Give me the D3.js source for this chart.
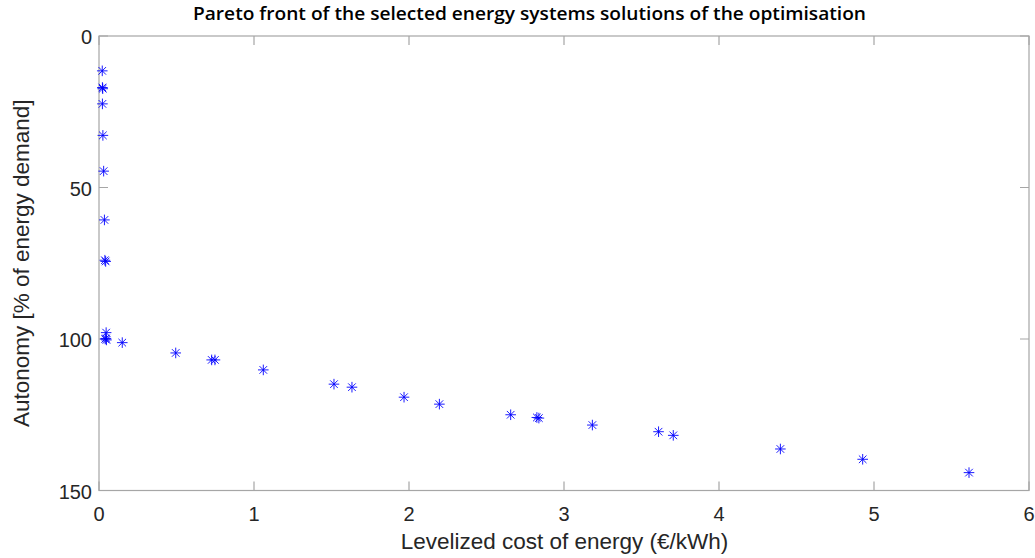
<!doctype html>
<html>
<head>
<meta charset="utf-8">
<title>Pareto front</title>
<style>
  html, body { margin: 0; padding: 0; background: #fff; }
  svg { display: block; }
</style>
<script src="https://cdnjs.cloudflare.com/ajax/libs/d3/7.8.5/d3.min.js"></script>
</head>
<body>
<script>
// levelized cost of energy (EUR/kWh) and autonomy (% of energy demand)
var cost = [0.021, 0.022, 0.024, 0.022, 0.025, 0.03, 0.035, 0.038, 0.043,
            0.046, 0.045, 0.048, 0.040, 0.15, 0.495, 0.727, 0.748, 1.06,
            1.516, 1.632, 1.968, 2.196, 2.656, 2.825, 2.838, 3.183, 3.61,
            3.705, 4.396, 4.927, 5.613];
var autonomy = [11.5, 17.0, 17.4, 22.4, 32.8, 44.6, 60.7, 74.0, 74.4,
                97.9, 99.8, 100.3, 100.0, 101.2, 104.6, 106.9, 106.9, 110.2,
                114.9, 115.9, 119.2, 121.5, 125.0, 125.9, 126.1, 128.4, 130.6,
                131.8, 136.3, 139.7, 144.1];
var xTicks = [0, 1, 2, 3, 4, 5, 6];
var yTicks = [0, 50, 100, 150];

var W = 1035, H = 558;
var pLeft = 99, pRight = 1029, pTop = 36, pBottom = 490.5;

var svg = d3.select("body").append("svg")
    .attr("width", W).attr("height", H);

var x = d3.scaleLinear().domain([0, 6]).range([pLeft, pRight]);
var y = d3.scaleLinear().domain([0, 150]).range([pTop, pBottom]);

var axisColor = "#262626";
var boxColor = "#a6a6a6";
var tickLen = 9;

// box
svg.append("rect")
    .attr("x", pLeft).attr("y", pTop)
    .attr("width", pRight - pLeft).attr("height", pBottom - pTop)
    .attr("fill", "none").attr("stroke", boxColor).attr("stroke-width", 1.2);

// ticks on all four sides
var g = svg.append("g");
g.selectAll(".xt").data(xTicks).enter().append("path")
    .attr("d", function (d) {
        var px = x(d);
        return "M" + px + "," + pBottom + "v" + (-tickLen) + "M" + px + "," + pTop + "v" + tickLen;
    })
    .attr("stroke", boxColor).attr("stroke-width", 1.2);
g.selectAll(".yt").data(yTicks).enter().append("path")
    .attr("d", function (d) {
        var py = y(d);
        return "M" + pLeft + "," + py + "h" + tickLen + "M" + pRight + "," + py + "h" + (-tickLen);
    })
    .attr("stroke", boxColor).attr("stroke-width", 1.2);

var font = "'Liberation Sans', Arial, Helvetica, sans-serif";

g.selectAll(".xl").data(xTicks).enter().append("text")
    .attr("x", function (d) { return x(d); })
    .attr("y", pBottom + 30)
    .attr("text-anchor", "middle")
    .attr("font-family", font).attr("font-size", 20)
    .attr("fill", axisColor)
    .text(function (d) { return d; });

g.selectAll(".yl").data(yTicks).enter().append("text")
    .attr("x", pLeft - 7)
    .attr("y", function (d) { return y(d) + 8; })
    .attr("text-anchor", "end")
    .attr("font-family", font).attr("font-size", 20)
    .attr("fill", axisColor)
    .text(function (d) { return d; });

// axis labels
svg.append("text")
    .attr("x", 564.5).attr("y", 549)
    .attr("text-anchor", "middle")
    .attr("font-family", font).attr("font-size", 22.5)
    .attr("fill", axisColor)
    .text("Levelized cost of energy (€/kWh)");

svg.append("text")
    .attr("transform", "translate(29," + ((pTop + pBottom) / 2) + ") rotate(-90)")
    .attr("text-anchor", "middle")
    .attr("font-family", font).attr("font-size", 22.5)
    .attr("fill", axisColor)
    .text("Autonomy [% of energy demand]");

// title
svg.append("text")
    .attr("x", 193).attr("y", 20)
    .attr("font-family", "'Open Sans', sans-serif")
    .attr("font-size", 18)
    .attr("font-weight", 600)
    .attr("textLength", 673)
    .attr("lengthAdjust", "spacingAndGlyphs")
    .attr("fill", "#000")
    .text("Pareto front of the selected energy systems solutions of the optimisation");

// asterisk markers
var r = 5.3, rd = 3.8;
var star = "M" + (-r) + ",0H" + r + "M0," + (-r) + "V" + r +
           "M" + (-rd) + "," + (-rd) + "L" + rd + "," + rd +
           "M" + (-rd) + "," + rd + "L" + rd + "," + (-rd);

svg.append("g").selectAll("path").data(d3.range(cost.length)).enter().append("path")
    .attr("transform", function (i) { return "translate(" + x(cost[i]) + "," + y(autonomy[i]) + ")"; })
    .attr("d", star)
    .attr("fill", "none")
    .attr("stroke", "#0000ff")
    .attr("stroke-width", 0.9);
</script>
</body>
</html>
